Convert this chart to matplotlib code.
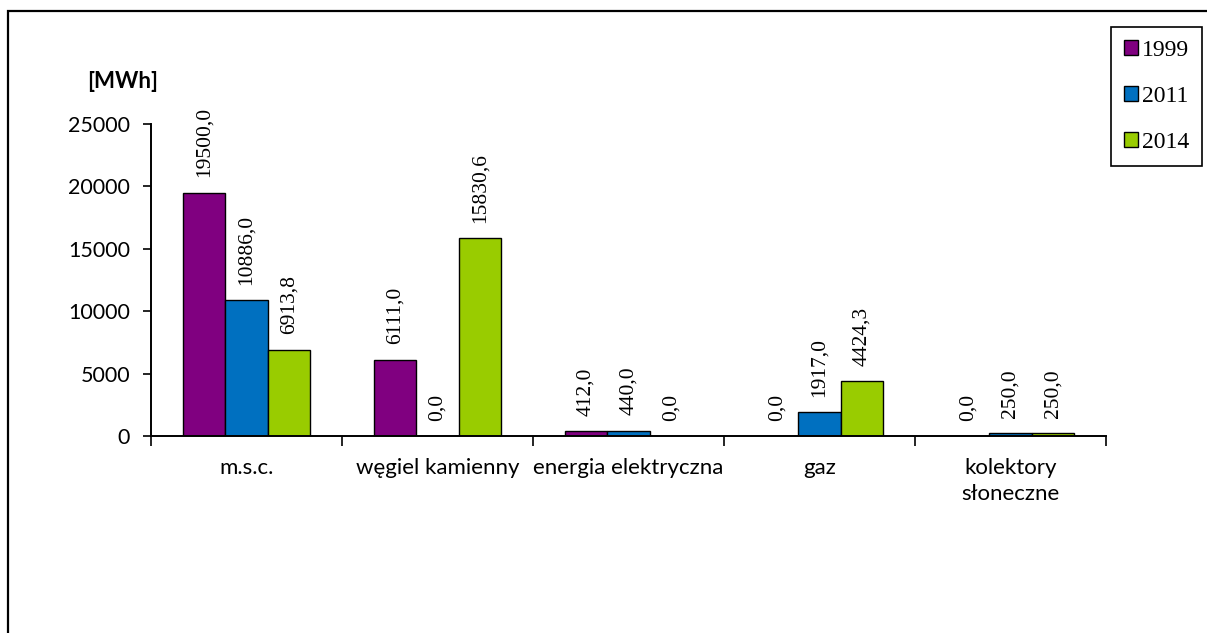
import matplotlib.pyplot as plt
import numpy as np
from matplotlib.patches import Rectangle

categories = ["m.s.c.", "węgiel kamienny", "energia elektryczna", "gaz", "kolektory\nsłoneczne"]
years = ["1999", "2011", "2014"]
values_1999 = [19500.0, 6111.0, 412.0, 0.0, 0.0]
values_2011 = [10886.0, 0.0, 440.0, 1917.0, 250.0]
values_2014 = [6913.8, 15830.6, 0.0, 4424.3, 250.0]
colors = ["#800080", "#0070C0", "#99CC00"]
y_ticks = [0, 5000, 10000, 15000, 20000, 25000]

W, H = 1207, 633
fig = plt.figure(figsize=(W / 100, H / 100), dpi=100)

# outer chart frame (only top and left edges visible)
fig.add_artist(Rectangle((8 / W, -0.1), 1.2, (H - 11) / H + 0.1,
                         transform=fig.transFigure, fill=False,
                         edgecolor="black", linewidth=1.6))

left, right, top, bottom = 151, 1106, 124, 436
ax = fig.add_axes([left / W, (H - bottom) / H, (right - left) / W, (bottom - top) / H])

x = np.arange(len(categories))
width = 0.222
series = [values_1999, values_2011, values_2014]
for i, (vals, col, yr) in enumerate(zip(series, colors, years)):
    pos = x + (i - 1) * width
    ax.bar(pos, vals, width, color=col, edgecolor="black", linewidth=1.0, label=yr)
    for px, v in zip(pos, vals):
        ax.annotate(f"{v:.1f}".replace(".", ","), (px, v), xytext=(0, 11),
                    textcoords="offset points", rotation=90, ha="center", va="bottom",
                    fontsize=15.5, family="Liberation Serif")

ax.set_xlim(-0.5, len(categories) - 0.5)
ax.set_ylim(0, 25000)
ax.set_yticks(y_ticks)
ax.set_yticklabels([str(t) for t in y_ticks], fontsize=15.5, family="Lato")
ax.tick_params(axis="y", direction="out", length=6, width=1.2, pad=9)

# boundaries carry the tick marks, category centres carry the labels
ax.set_xticks(np.arange(len(categories) + 1) - 0.5)
ax.set_xticklabels([])
ax.set_xticks(x, minor=True)
ax.set_xticklabels(categories, minor=True, fontsize=16, family="Lato",
                   linespacing=1.35)
ax.tick_params(axis="x", which="major", direction="out", length=7, width=1.2)
ax.tick_params(axis="x", which="minor", length=0, pad=16)

for s in ["top", "right"]:
    ax.spines[s].set_visible(False)
for s in ["left", "bottom"]:
    ax.spines[s].set_linewidth(1.4)

fig.text(87 / W, (H - 82) / H, "[MWh]", fontsize=16, fontweight="bold",
         family="Lato", va="center", ha="left")

leg = ax.legend(loc="upper left", bbox_to_anchor=(1111 / W, (H - 27) / H),
                bbox_transform=fig.transFigure, fancybox=False, framealpha=1,
                edgecolor="black", prop={"family": "Liberation Serif", "size": 17},
                handlelength=0.6, handleheight=0.6, handletextpad=0.15,
                labelspacing=1.05, borderpad=0.55, borderaxespad=0)
leg.get_frame().set_linewidth(1.2)

fig.savefig("out.png", dpi=100)
